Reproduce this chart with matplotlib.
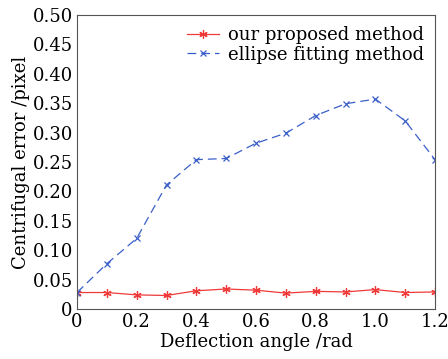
import matplotlib
matplotlib.use("Agg")
import matplotlib.pyplot as plt

angles = [0, 0.1, 0.2, 0.3, 0.4, 0.5, 0.6, 0.7, 0.8, 0.9, 1.0, 1.1, 1.2]
proposed = [0.028, 0.028, 0.024, 0.023, 0.031, 0.034, 0.032, 0.027, 0.030, 0.029, 0.033, 0.028, 0.029]
ellipse = [0.028, 0.077, 0.120, 0.211, 0.254, 0.256, 0.282, 0.299, 0.329, 0.349, 0.357, 0.320, 0.254]
xticks = [0, 0.2, 0.4, 0.6, 0.8, 1.0, 1.2]
xticklabels = ["0", "0.2", "0.4", "0.6", "0.8", "1.0", "1.2"]
yticks = [0, 0.05, 0.10, 0.15, 0.20, 0.25, 0.30, 0.35, 0.40, 0.45, 0.50]
yticklabels = ["0", "0.05", "0.10", "0.15", "0.20", "0.25", "0.30", "0.35", "0.40", "0.45", "0.50"]

plt.rcParams['font.family'] = ['DejaVu Serif']
fig = plt.figure(figsize=(4.48, 3.59), dpi=100)
ax = fig.add_axes([77/448, 1-309/359, (435-77)/448, (309-15)/359])

ax.plot(angles, proposed, color='#f03a3a', lw=0.9, marker=(6, 2, 0), ms=6, mew=0.9,
        label='our proposed method')
ax.plot(angles, ellipse, color='#3a5fc8', lw=0.9, ls=(0, (7, 4)), marker='x', ms=4.5, mew=0.9,
        label='ellipse fitting method')

ax.set_xlim(0, 1.2)
ax.set_ylim(0, 0.5)
ax.set_xticks(xticks)
ax.set_xticklabels(xticklabels)
ax.set_yticks(yticks)
ax.set_yticklabels(yticklabels)
ax.tick_params(direction='in', length=0, labelsize=13, pad=3)
for s in ax.spines.values():
    s.set_color('#555555')
    s.set_linewidth(0.8)
ax.set_xlabel('Deflection angle /rad', fontsize=13, labelpad=1)
ax.set_ylabel('Centrifugal error /pixel', fontsize=13, labelpad=2)
leg = ax.legend(loc='upper right', frameon=False, fontsize=13, handlelength=1.8,
                borderaxespad=0.2, labelspacing=0.1, handletextpad=0.5)
fig.savefig('out.png', dpi=100)
